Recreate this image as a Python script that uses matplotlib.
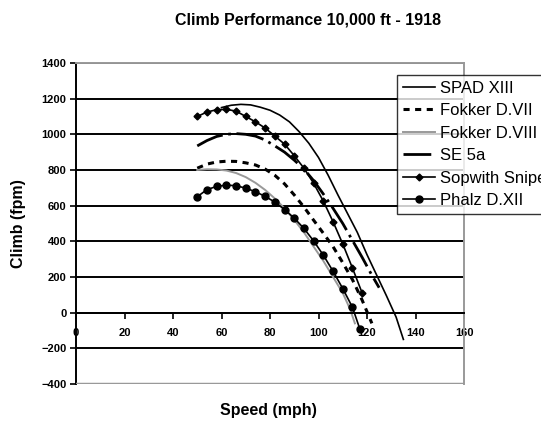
import numpy as np
import matplotlib
matplotlib.use("Agg")
import matplotlib.pyplot as plt

plt.rcParams['font.family'] = ['Liberation Sans', 'DejaVu Sans']

# speeds (mph) and climb rates (fpm)
spad_x = [60, 64, 68, 72, 76, 80, 84, 88, 92, 96, 100, 104, 108, 112, 116, 120, 124, 128, 132, 135]
spad_y = [1150, 1163, 1168, 1165, 1152, 1135, 1108, 1070, 1015, 950, 870, 770, 660, 555, 450, 325, 210, 95, -25, -150]

d7_x = [50, 54, 58, 62, 66, 70, 74, 78, 82, 86, 90, 94, 98, 102, 106, 110, 114, 118, 122]
d7_y = [810, 833, 845, 849, 848, 840, 828, 805, 770, 722, 660, 592, 518, 445, 370, 280, 185, 70, -60]

d8_x = [50, 54, 58, 62, 66, 70, 74, 78, 82, 86, 90, 94, 98, 102, 106, 110, 113, 115]
d8_y = [800, 804, 803, 797, 783, 760, 728, 688, 640, 585, 520, 450, 370, 290, 200, 110, 20, -60]

se5_x = [50, 54, 58, 62, 66, 70, 74, 78, 82, 86, 90, 94, 98, 102, 106, 110, 114, 118, 122, 125]
se5_y = [935, 965, 988, 1000, 1004, 1000, 990, 968, 935, 900, 855, 805, 740, 665, 585, 500, 405, 310, 210, 140]

snipe_x = [50, 54, 58, 62, 66, 70, 74, 78, 82, 86, 90, 94, 98, 102, 106, 110, 114, 118]
snipe_y = [1100, 1125, 1138, 1140, 1130, 1100, 1070, 1035, 990, 945, 880, 810, 725, 625, 510, 385, 250, 110]

phalz_x = [50, 54, 58, 62, 66, 70, 74, 78, 82, 86, 90, 94, 98, 102, 106, 110, 114, 117]
phalz_y = [650, 690, 708, 715, 712, 698, 678, 652, 620, 578, 530, 472, 402, 322, 232, 135, 30, -90]

fig = plt.figure(figsize=(5.41, 4.21), dpi=100)
ax = fig.add_axes([0.1405, 0.0879, 0.8577 - 0.1405, 0.8504 - 0.0879])

ax.plot(spad_x, spad_y, color='black', lw=1.2, label='SPAD XIII')
ax.plot(d7_x, d7_y, color='black', lw=2.2, ls=(0, (2, 1.8)), label='Fokker D.VII')
ax.plot(d8_x, d8_y, color='#999999', lw=1.4, label='Fokker D.VIII')
ax.plot(se5_x, se5_y, color='black', lw=2, ls=(0, (10, 2, 1, 2)), label='SE 5a')
ax.plot(snipe_x, snipe_y, color='black', lw=1.2, marker='D', ms=3.5, label='Sopwith Snipe')
ax.plot(phalz_x, phalz_y, color='black', lw=1.2, marker='o', ms=5, label='Phalz D.XII')

ax.set_xlim(0, 160)
ax.set_ylim(-400, 1400)
ax.set_xticks(np.arange(0, 161, 20))
ax.set_yticks(np.arange(-400, 1401, 200))

ax.set_axisbelow(True)
ax.yaxis.grid(True, color='black', lw=1.4)
for s in ['top', 'right']:
    ax.spines[s].set_color('#999999')
    ax.spines[s].set_linewidth(1.4)
ax.spines['left'].set_color('black')
ax.spines['left'].set_linewidth(1.4)
ax.spines['bottom'].set_position(('data', 0))
ax.spines['bottom'].set_linewidth(1.4)
ax.axhline(-400, color='#999999', lw=2.5, zorder=3)

ax.tick_params(axis='x', direction='out', length=4, width=1.2, pad=7, labelsize=8)
ax.tick_params(axis='y', direction='out', length=4, width=1.2, pad=3, labelsize=8)
for t in ax.get_xticklabels() + ax.get_yticklabels():
    t.set_fontweight('bold')

ax.set_xlabel('Speed (mph)', fontsize=11.5, fontweight='bold', labelpad=0)
ax.xaxis.set_label_coords(0.495, -0.06)
ax.set_ylabel('Climb (fpm)', fontsize=11.5, fontweight='bold')
ax.yaxis.set_label_coords(-0.13, 0.5)
fig.suptitle('Climb Performance 10,000 ft - 1918', x=0.57, y=0.97,
             fontsize=11.5, fontweight='bold')

leg = fig.legend(loc='upper left', bbox_to_anchor=(0.734, 0.822), fontsize=12,
                 frameon=True, fancybox=False, handlelength=1.9, handletextpad=0.3,
                 labelspacing=0.45, borderpad=0.35, borderaxespad=0)
leg.get_frame().set_edgecolor('black')
leg.get_frame().set_linewidth(1)

fig.savefig('out.png', dpi=100)
